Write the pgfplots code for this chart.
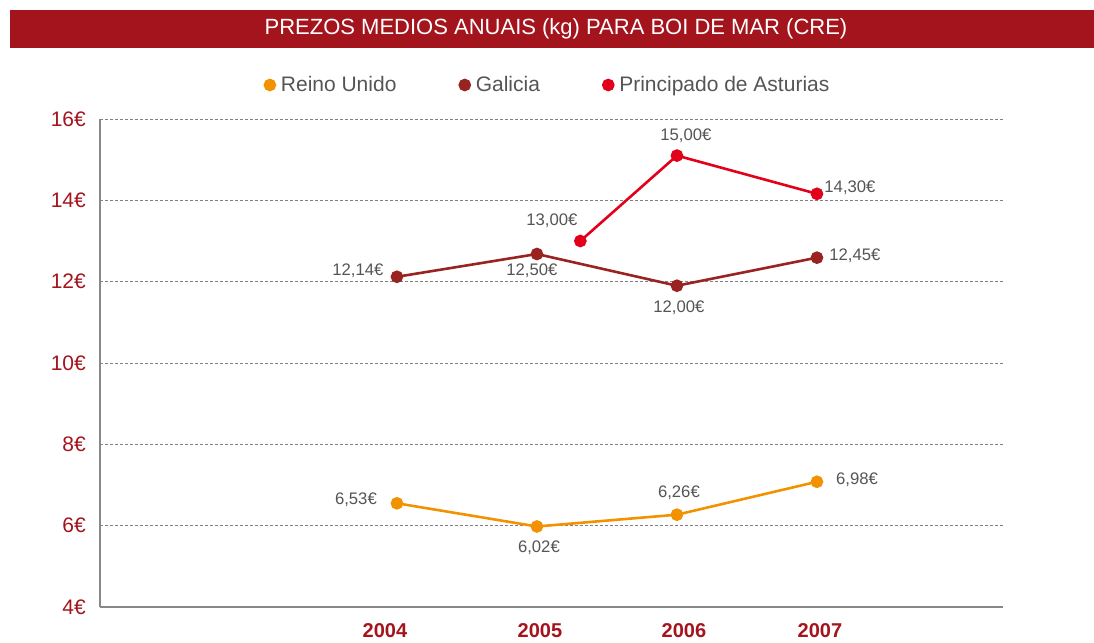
\documentclass[border=0pt]{standalone}
\usepackage{fontspec}
\setmainfont{Liberation Sans}
\usepackage{pgfplots}
\pgfplotsset{compat=1.18}
\definecolor{barred}{HTML}{A3141D}
\definecolor{tickred}{HTML}{A3141D}
\definecolor{ruc}{HTML}{F39200}
\definecolor{galc}{HTML}{992321}
\definecolor{astc}{HTML}{E2001A}
\definecolor{txtgray}{HTML}{555555}
\definecolor{axgray}{HTML}{888888}
\begin{document}
\begin{tikzpicture}[x=1pt,y=1pt]
\useasboundingbox (0,0) rectangle (1094,642);
\fill[barred] (10,594) rectangle (1094,632);
\node[text=white,font=\fontsize{22}{22}\selectfont] at (556,613) {PREZOS MEDIOS ANUAIS (kg) PARA BOI DE MAR (CRE)};
\begin{axis}[
  at={(100pt,35pt)}, anchor=south west,
  scale only axis, width=903pt, height=488pt,
  xmin=2001.879, xmax=2008.329, ymin=4, ymax=16,
  axis lines*=left,
  axis line style={axgray, line width=2pt},
  major tick length=0pt,
  ytick={4,6,8,10,12,14,16},
  yticklabel={\pgfmathprintnumber{\tick}€},
  /pgf/number format/assume math mode=true,
  yticklabel style={text=tickred, font=\fontsize{21}{21}\selectfont},
  xtick={2003.914,2005.021,2006.05,2007.021},
  xticklabels={2004,2005,2006,2007},
  xticklabel style={text=tickred, font=\fontsize{20}{20}\selectfont\bfseries},
  tick label style={inner sep=0pt},
  yticklabel shift=14pt,
  xticklabel shift=16pt,
  ymajorgrids, xmajorgrids=false,
  grid style={densely dashed, gray, line width=0.8pt},
  legend columns=3,
  legend style={draw=none, fill=none, at={(0.5,1.0)}, anchor=center,
    yshift=34pt, xshift=-4pt,
    font=\fontsize{21}{21}\selectfont, text=txtgray,
    /tikz/every even column/.append style={column sep=60pt}},
  legend image code/.code={\path[draw=none,fill=none] (-5pt,-5pt) rectangle (9pt,5pt); \fill (0pt,0pt) circle (5pt);},
  clip=false,
]
\addplot[ruc, line width=2.6pt, mark=*, mark size=5pt] coordinates {(2004,6.55) (2005,5.98) (2006,6.27) (2007,7.08)};
\addlegendentry{Reino Unido}
\addplot[galc, line width=2.6pt, mark=*, mark size=5pt] coordinates {(2004,12.12) (2005,12.68) (2006,11.9) (2007,12.59)};
\addlegendentry{Galicia}
\addplot[astc, line width=2.6pt, mark=*, mark size=5pt] coordinates {(2005.31,13.0) (2006,15.1) (2007,14.16)};
\addlegendentry{Principado de Asturias}
\begin{scope}[every node/.style={text=txtgray, font=\fontsize{16.7}{17}\selectfont, inner sep=0pt}]
\node at (axis cs:2003.707,6.64) {6,53€};
\node at (axis cs:2005.014,5.46) {6,02€};
\node at (axis cs:2006.014,6.81) {6,26€};
\node at (axis cs:2007.286,7.13) {6,98€};
\node at (axis cs:2003.721,12.27) {12,14€};
\node at (axis cs:2004.964,12.27) {12,50€};
\node at (axis cs:2006.014,11.36) {12,00€};
\node at (axis cs:2007.271,12.64) {12,45€};
\node at (axis cs:2005.107,13.51) {13,00€};
\node at (axis cs:2006.064,15.60) {15,00€};
\node at (axis cs:2007.236,14.30) {14,30€};
\end{scope}
\end{axis}
\end{tikzpicture}
\end{document}
